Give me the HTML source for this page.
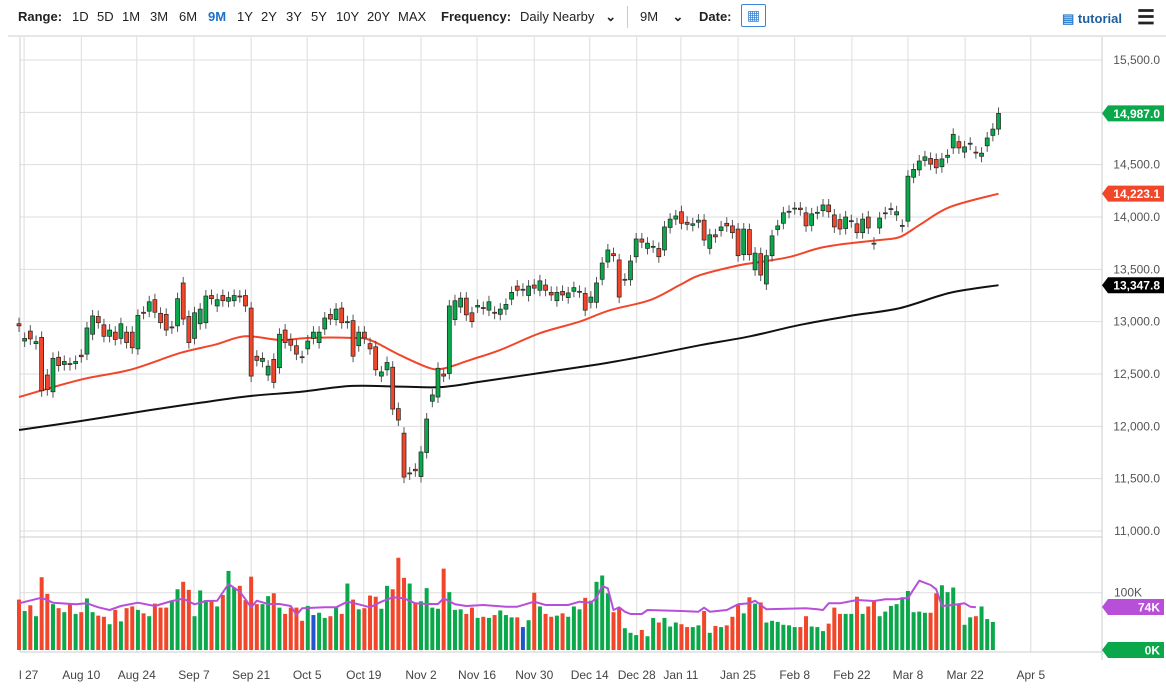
<!DOCTYPE html>
<html><head><meta charset="utf-8"><style>
body{margin:0;background:#fff;font-family:"Liberation Sans",sans-serif;}
#wrap{position:relative;width:1166px;height:690px;overflow:hidden;}
#hdr{position:absolute;left:0;top:0;width:1166px;height:36px;font-size:13px;color:#222;}
#hdr span{position:absolute;top:9px;}
.b{font-weight:bold;}
</style></head><body>
<div id="wrap">
<div id="hdr">
<span class="b" style="left:18px">Range:</span>
<span style="left:72px">1D</span>
<span style="left:97px">5D</span>
<span style="left:122px">1M</span>
<span style="left:150px">3M</span>
<span style="left:179px">6M</span>
<span class="b" style="left:208px;color:#1f6fc5">9M</span>
<span style="left:237px">1Y</span>
<span style="left:261px">2Y</span>
<span style="left:286px">3Y</span>
<span style="left:311px">5Y</span>
<span style="left:336px">10Y</span>
<span style="left:367px">20Y</span>
<span style="left:398px">MAX</span>
<span class="b" style="left:441px">Frequency:</span>
<span style="left:520px">Daily Nearby &nbsp;&nbsp;<b>&#8964;</b></span>
<span style="left:627px;top:6px;width:1px;height:22px;background:#ccc"></span>
<span style="left:640px">9M &nbsp;&nbsp;&nbsp;<b>&#8964;</b></span>
<span class="b" style="left:699px">Date:</span>
<span style="left:741px;top:4px;width:25px;height:23px;border:1px solid #3a86d0;box-sizing:border-box;border-radius:2px;color:#3a86d0;text-align:center;font-size:14px;line-height:21px">&#9638;</span>
<span class="b" style="left:1062px;top:11px;color:#1f5f9f"><span style="position:static;color:#2f80d0">&#9636;</span> tutorial</span>
<span class="b" style="left:1137px;top:5px;font-size:20px">&#9776;</span>
</div>
<svg id="chart" width="1166" height="690" style="position:absolute;left:0;top:0"></svg>
</div>
<script>
const tickDates=["l 27","Aug 10","Aug 24","Sep 7","Sep 21","Oct 5","Oct 19","Nov 2","Nov 16","Nov 30","Dec 14","Dec 28","Jan 11","Jan 25","Feb 8","Feb 22","Mar 8","Mar 22","Apr 5"];
const tickIdx=[0.9,11,20.8,30.9,41,50.9,60.9,71,80.9,91,100.8,109.1,116.9,127,137,147.1,157,167.1,178.7];
const priceTicks=[11000,11500,12000,12500,13000,13500,14000,14500,15000,15500];
const opens=[12980,12815,12910,12790,12850,12490,12330,12660,12590,12600,12600,12680,12690,12880,13050,12970,12860,12900,12840,12900,12900,12740,13090,13100,13210,13080,13070,12940,12960,13370,13050,12840,12980,12990,13250,13150,13250,13195,13200,13245,13250,13130,12670,12620,12490,12640,12560,12920,12830,12770,12665,12740,12840,12800,12930,13070,13020,13130,12990,13010,12770,12900,12790,12760,12480,12540,12565,12170,11935,11545,11590,11520,11750,12240,12280,12500,12505,13020,13140,13225,13085,13140,13135,13110,13090,13070,13120,13215,13340,13300,13250,13350,13300,13350,13280,13200,13290,13230,13290,13285,13270,13185,13185,13405,13570,13650,13590,13400,13400,13620,13790,13700,13715,13700,13685,13900,13980,14050,13950,13920,13950,13970,13700,13830,13870,13940,13915,13885,13640,13880,13495,13650,13360,13630,13880,13940,14045,14080,14085,14040,13920,14035,14060,14115,14020,13975,13890,13955,13935,13850,14000,13750,13895,14035,14075,14020,13910,13960,14380,14450,14540,14560,14550,14480,14570,14660,14720,14620,14695,14620,14580,14680,14780,14840];
const closes=[12960,12840,12835,12810,12340,12350,12650,12580,12620,12590,12620,12665,12940,13055,12990,12860,12920,12830,12980,12800,12750,13060,13080,13190,13090,12990,12920,12950,13220,13025,12800,13085,13120,13245,13220,13210,13200,13230,13250,13240,13150,12480,12630,12650,12575,12420,12880,12800,12775,12690,12660,12815,12900,12900,13035,13025,13120,12990,13000,12670,12900,12845,12740,12540,12520,12610,12165,12060,11515,11555,11575,11755,12070,12300,12555,12480,13150,13200,13225,13065,13000,13155,13125,13190,13080,13120,13165,13280,13300,13310,13340,13320,13390,13300,13255,13280,13255,13275,13325,13290,13110,13235,13370,13560,13685,13630,13235,13405,13580,13790,13760,13750,13720,13620,13905,13980,14010,13940,13930,13935,13970,13780,13830,13810,13905,13915,13850,13630,13885,13640,13655,13445,13630,13820,13915,14040,14055,14085,14070,13915,14030,14045,14115,14050,13905,13885,14000,13965,13850,13980,13895,13745,13990,14040,14080,14050,13920,14390,14455,14535,14575,14505,14470,14555,14590,14790,14660,14670,14705,14615,14610,14755,14840,14990];
const volumes=[88,68,78,59,127,98,80,73,66,81,63,66,90,66,60,58,45,70,50,73,76,70,64,59,81,74,74,85,106,119,105,59,104,87,87,76,96,138,109,112,87,128,80,80,94,99,74,63,74,74,51,77,61,65,56,59,76,63,116,88,71,73,95,93,72,112,106,161,126,116,83,85,108,74,72,142,101,70,71,63,74,56,58,56,61,69,61,57,57,40,52,100,76,63,58,60,64,58,76,71,91,86,119,130,99,66,74,38,30,26,35,24,56,48,56,41,48,45,40,40,43,68,30,42,40,43,58,80,64,92,81,83,48,51,49,44,43,40,40,59,41,40,33,46,74,63,63,63,93,63,76,87,59,67,77,80,92,103,66,67,65,65,99,113,101,109,80,44,57,59,76,54,49];
const blueVolIdx=[52,89];
const ma50Idx=[0,10.8,19.6,28.4,34.6,39.9,46.1,51.4,58.5,62,67.3,72.6,75.2,79.7,85,92,99,104.4,111.4,116.7,120.3,127.3,130.9,136.2,141.5,146.8,152,155.6,159.1,164.4,173];
const ma50=[12280,12445,12540,12700,12780,12860,12825,12845,12845,12825,12680,12555,12555,12635,12730,12890,13000,13110,13205,13350,13445,13540,13570,13620,13705,13750,13780,13810,13925,14095,14223];
const ma200Idx=[0,10.8,23.1,32,40.9,49.8,58.5,67.3,74.4,81.4,92,102.6,111.4,120.3,129.1,138,146.8,155.6,164.4,173];
const ma200=[11965,12050,12155,12225,12290,12330,12385,12380,12375,12425,12510,12595,12680,12775,12860,12970,13055,13130,13275,13348];
const volMaIdx=[0,4,6,10,12,14,16,18,21,24,27,29,31,33,35,37,39,40,41,42,44,46,48,49,50,54,56,58,60,62,64,66,68,70,72,74,75,77,79,82,86,88,91,93,97,99,101,102,103,104,105,106,107,108,110,111,117,120,121,122,125,127,129,130,131,132,139,141,142,143,145,148,151,153,155,156,157,158,159,161,162,163,165,167,168,169];
const volMaZ=[160,143,158,163,160,172,180,168,158,168,153,146,163,153,152,102,125,148,172,152,162,162,168,195,175,172,172,155,163,172,155,142,145,160,162,162,145,163,168,165,170,170,155,165,165,155,158,143,108,115,180,172,185,192,192,180,183,185,173,185,180,163,160,152,165,178,175,178,180,160,160,150,153,148,148,145,145,118,92,105,118,168,165,160,170,172];

const svg=document.getElementById('chart');
const NS='http://www.w3.org/2000/svg';
const X0=19,DX=5.662,PL=20,PR=1102;
const xs=i=>X0+i*DX;
const yp=p=>531-(p-11000)*0.104667;
const yv=v=>650-v*0.573;
function mk(tag,attrs,parent){const e=document.createElementNS(NS,tag);for(const k in attrs)e.setAttribute(k,attrs[k]);(parent||svg).appendChild(e);return e;}
const fmt=v=>v.toLocaleString('en-US',{minimumFractionDigits:1,maximumFractionDigits:1});
function smooth(pts){
  let d='M'+pts[0][0].toFixed(1)+' '+pts[0][1].toFixed(1);
  for(let i=1;i<pts.length;i++){
    const p0=pts[i-2]||pts[i-1],p1=pts[i-1],p2=pts[i],p3=pts[i+1]||p2;
    const c1x=p1[0]+(p2[0]-p0[0])/6,c1y=p1[1]+(p2[1]-p0[1])/6;
    const c2x=p2[0]-(p3[0]-p1[0])/6,c2y=p2[1]-(p3[1]-p1[1])/6;
    d+=` C${c1x.toFixed(1)} ${c1y.toFixed(1)} ${c2x.toFixed(1)} ${c2y.toFixed(1)} ${p2[0].toFixed(1)} ${p2[1].toFixed(1)}`;
  }
  return d;
}

let hl=mk('line',{x1:8,y1:36,x2:1166,y2:36,stroke:'#ccc'});



const grid=mk('g',{});


tickIdx.forEach(t=>{const x=xs(t);if(x<PL||x>PR)return;mk('line',{x1:x,y1:37,x2:x,y2:652,stroke:'#ddd'},grid);});
priceTicks.forEach(p=>{mk('line',{x1:PL,y1:yp(p),x2:PR,y2:yp(p),stroke:'#ddd'},grid);});
mk('line',{x1:PL,y1:yv(100),x2:PR,y2:yv(100),stroke:'#ddd'},grid);
mk('line',{x1:PL,y1:537,x2:PR,y2:537,stroke:'#ccc'},grid);
mk('line',{x1:PL,y1:652,x2:PR,y2:652,stroke:'#ccc'},grid);
mk('line',{x1:PL,y1:37,x2:PL,y2:652,stroke:'#ccc'},grid);
mk('line',{x1:PR,y1:37,x2:PR,y2:660,stroke:'#ccc'},grid);

const pax=mk('g',{'font-size':12,fill:'#555','font-family':'Liberation Sans, sans-serif'});


priceTicks.forEach(p=>{if(p===15000)return;const t=mk('text',{x:1160,y:yp(p)+4,'text-anchor':'end'},pax);t.textContent=fmt(p);});
const t100=mk('text',{x:1142,y:yv(100)+4,'text-anchor':'end'},pax);t100.textContent='100K';

const xax=mk('g',{'font-size':12,fill:'#444','font-family':'Liberation Sans, sans-serif'});


tickDates.forEach((d,i)=>{let x=xs(tickIdx[i]);const t=mk('text',{x:i===0?19:x,y:679,'text-anchor':i===0?'start':'middle'},xax);t.textContent=d;});

function line(idx,vals,color,name,w){
  const pts=idx.map((k,j)=>[xs(k),yp(vals[j])]);
  const l=mk('path',{d:smooth(pts),fill:'none',stroke:color,'stroke-width':w});
  
  
}
line(ma200Idx,ma200,'#111','ma200-line',2);
line(ma50Idx,ma50,'#f2462a','ma50-line',2);

const cg=mk('g',{});


closes.forEach((c,i)=>{
  const o=opens[i],x=xs(i),up=c>=o;
  const top=yp(Math.max(o,c)),bot=yp(Math.min(o,c));
  mk('line',{x1:x,y1:top-6,x2:x,y2:bot+6,stroke:'#555','stroke-width':1},cg);
  const r=mk('rect',{x:x-2,y:top,width:4,height:Math.max(1,bot-top),fill:up?'#0aa84a':'#f2462a',stroke:'#222','stroke-width':0.7},cg);
  
  
});

const vg=mk('g',{});


volumes.forEach((v,i)=>{
  const up=closes[i]>=opens[i];
  const col=blueVolIdx.includes(i)?'#2255cc':(up?'#0aa84a':'#f2462a');
  const b=mk('rect',{x:xs(i)-2,y:yv(v),width:4,height:650-yv(v),fill:col},vg);
  
  
});
const vpts=volMaIdx.map((k,j)=>xs(k).toFixed(1)+','+(550+volMaZ[j]/3).toFixed(1)).join(' ');
const vm=mk('polyline',{points:vpts,fill:'none',stroke:'#b84fd8','stroke-width':2,'stroke-linejoin':'round'});



function tag(y,txt,bg,name){
  const g=mk('g',{});
  
  
  mk('path',{d:`M1102 ${y} L1108 ${y-8} L1164 ${y-8} L1164 ${y+8} L1108 ${y+8} Z`,fill:bg},g);
  const t=mk('text',{x:1160,y:y+4.5,'text-anchor':'end',fill:'#fff','font-size':12,'font-weight':'bold','font-family':'Liberation Sans, sans-serif'},g);
  t.textContent=txt;
}
tag(yp(closes[closes.length-1]),fmt(14987),'#0aa84a','last-price-tag');
tag(yp(ma50[ma50.length-1]),fmt(14223.1),'#f2462a','ma50-tag');
tag(yp(ma200[ma200.length-1]),fmt(13347.8),'#000','ma200-tag');
tag(607,'74K','#b84fd8','volume-average-tag');
tag(650,'0K','#0aa84a','volume-zero-tag');
</script>
</body></html>
